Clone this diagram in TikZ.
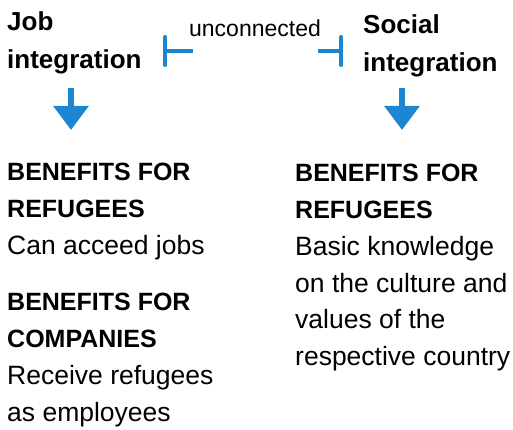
\documentclass[tikz,border=0pt]{standalone}
\usepackage{fontspec}
\setmainfont{Liberation Sans}
\usetikzlibrary{arrows.meta}
\definecolor{arrblue}{HTML}{1B87D0}
\newcommand{\hdline}[1]{{\fontsize{25}{36.8}\selectfont\bfseries #1}}
\begin{document}
\begin{tikzpicture}[x=1pt,y=-1pt,
  title/.style={anchor=north west,inner sep=0pt,align=left,font=\fontsize{26}{38.5}\selectfont\bfseries},
  block/.style={anchor=north west,inner sep=0pt,align=left,font=\fontsize{26.5}{36.8}\selectfont},
  downarr/.style={draw=arrblue,line width=6.5pt,-{Triangle[length=24pt,width=34pt,fill=arrblue]}},
  stub/.style={draw=arrblue,line width=4pt,{Bar[width=28pt,line cap=round]}-}
]
\useasboundingbox (0,0) rectangle (513,430);
% titles
\node[title] (job) at (7,11.4) {Job\\integration};
\node[title] (social) at (363,14.4) {Social\\integration};
% label
\node[anchor=base,inner sep=0pt,font=\fontsize{23}{26}\selectfont] (unc) at (255,37) {unconnected};
% stubs
\coordinate (lbar) at (163,51);
\coordinate (lend) at (193,51);
\coordinate (rbar) at (343,51);
\coordinate (rend) at (318,51);
\draw[stub] (lbar) -- (lend);
\draw[stub] (rbar) -- (rend);
% down arrows
\coordinate (a1s) at (71,88);
\coordinate (a1e) at (71,130);
\coordinate (a2s) at (402,88);
\coordinate (a2e) at (402,130);
\draw[downarr] (a1s) -- (a1e);
\draw[downarr] (a2s) -- (a2e);
% blocks
\node[block] (b1) at (7,163.1) {\hdline{BENEFITS FOR}\\\hdline{REFUGEES}\\Can acceed jobs};
\node[block] (b2) at (7,293.1) {\hdline{BENEFITS FOR}\\\hdline{COMPANIES}\\Receive refugees\\as employees};
\node[block] (b3) at (295,164.1) {\hdline{BENEFITS FOR}\\\hdline{REFUGEES}\\Basic knowledge\\on the culture and\\values of the\\respective country};
\end{tikzpicture}
\end{document}
